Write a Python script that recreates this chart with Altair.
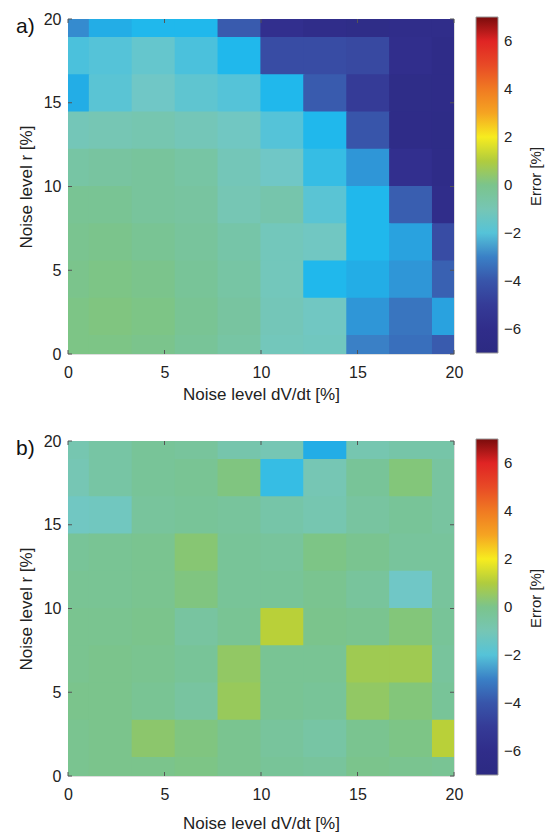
import altair as alt
import pandas as pd

# grid of the simulation (noise levels, %)
grid = [0, 2.22, 4.44, 6.67, 8.89, 11.11, 13.33, 15.56, 17.78, 20]
rows_y = grid[::-1]  # rows listed from top (r = 20) to bottom (r = 0)

# panel a) error [%], rows from r=20 down to r=0, columns dV/dt = 0 .. 20
err_a = [
    [-2.9, -2.6, -2.5, -2.5, -3.8, -5.5, -6.0, -6.2, -6.0, -6.0],
    [-2.1, -2.0, -1.7, -2.1, -2.5, -4.3, -4.3, -4.4, -5.8, -6.3],
    [-2.6, -1.9, -1.5, -1.8, -2.0, -2.5, -3.8, -5.0, -6.2, -6.3],
    [-1.1, -1.0, -0.9, -1.1, -1.4, -2.0, -2.5, -4.0, -6.3, -6.4],
    [-0.6, -0.5, -0.4, -0.6, -1.1, -1.5, -2.3, -2.8, -5.5, -6.3],
    [-0.2, -0.2, -0.4, -0.5, -1.0, -0.8, -1.9, -2.5, -3.7, -6.0],
    [-0.1, 0.0, -0.2, -0.4, -0.7, -1.2, -1.4, -2.5, -2.7, -4.3],
    [0.0, 0.1, 0.0, -0.3, -0.6, -1.2, -2.5, -2.6, -2.8, -3.6],
    [0.1, 0.2, 0.1, -0.2, -0.5, -1.1, -1.4, -2.8, -3.2, -2.7],
    [0.1, 0.1, 0.0, -0.3, -0.6, -1.2, -1.3, -3.0, -3.3, -3.8],
]

# panel b) error [%]
err_b = [
    [-0.9, -0.6, -0.3, -0.4, -0.8, -1.0, -2.6, -0.9, -0.7, -0.7],
    [-1.0, -0.6, -0.3, -0.2, 0.2, -2.3, -1.0, -0.3, 0.3, -0.5],
    [-1.4, -1.3, -0.4, -0.3, -0.4, -0.7, -0.9, -0.5, -0.3, -0.5],
    [-0.3, -0.2, -0.1, 0.4, -0.3, -0.4, 0.1, -0.1, -0.4, -0.4],
    [-0.2, -0.2, -0.1, 0.2, -0.3, -0.3, -0.1, -0.4, -1.5, -0.4],
    [-0.1, -0.1, 0.0, -0.5, -0.2, 1.1, 0.0, -0.1, 0.3, -0.3],
    [-0.1, 0.0, -0.1, -0.3, 0.6, -0.2, -0.2, 0.8, 0.8, -0.4],
    [0.0, 0.0, -0.2, -0.5, 0.7, -0.2, -0.3, 0.6, 0.3, -0.3],
    [-0.1, 0.0, 0.5, 0.2, -0.1, -0.4, -0.6, -0.1, 0.1, 1.1],
    [-0.1, 0.0, 0.0, 0.1, -0.1, -0.3, -0.4, 0.0, -0.1, -0.2],
]

tick_values = [0, 5, 10, 15, 20]
cbar_values = [-6, -4, -2, 0, 2, 4, 6]

# colour map of the colour bar (value -> colour)
cmap_stops = [-7, -5.5, -4.5, -3.5, -3.0, -2.5, -2.0, -1.5, -1.0, -0.5, 0.0, 0.5,
              1.0, 1.5, 2.0, 2.5, 3.0, 4.0, 5.0, 6.0, 6.5, 7.0]
cmap_colors = ["#2c2a82", "#322f8e", "#38469f", "#3a64b4", "#3a80c6", "#20b8ec",
               "#55c3d8", "#70c7c6", "#76c6b4", "#78c4a0", "#7bc48c", "#8cc66c",
               "#b0cc3e", "#e0e020", "#f7ec1f", "#f8c61f", "#f5a422", "#f07a22",
               "#e84a26", "#e02424", "#b81818", "#7a0c0c"]

W, H = 386, 335
CB_X, CB_W = W + 22, 22
HALF = 20 / 9 / 2 + 0.03
FONT = "Liberation Sans"


def frame(err):
    recs = []
    for yv, row in zip(rows_y, err):
        for xv, v in zip(grid, row):
            recs.append({"x": xv, "y": yv, "err": v})
    return pd.DataFrame(recs)


def panel(err, label, xtitle_pad):
    sx = alt.Scale(domain=[0, 20], nice=False, zero=False)
    sy = alt.Scale(domain=[0, 20], nice=False, zero=False)
    ax_x = alt.Axis(
        values=tick_values, title="Noise level dV/dt [%]", labelFlush=False,
        ticks=False, domain=False, grid=False, labelPadding=10,
        labelFontSize=16, titleFontSize=17, titlePadding=xtitle_pad,
        labelColor="#222", titleColor="#222", titleFontWeight="normal",
        labelFont=FONT, titleFont=FONT)
    ax_y = alt.Axis(
        values=tick_values, title="Noise level r [%]", labelFlush=False,
        ticks=False, domain=False, grid=False, labelPadding=7,
        labelFontSize=16, titleFontSize=17, titlePadding=8,
        labelColor="#222", titleColor="#222", titleFontWeight="normal",
        labelFont=FONT, titleFont=FONT)
    heat = (
        alt.Chart(frame(err))
        .transform_calculate(
            x0=f"datum.x - {HALF}", x1=f"datum.x + {HALF}",
            y0=f"datum.y - {HALF}", y1=f"datum.y + {HALF}",
        )
        .mark_rect(clip=True, strokeWidth=0)
        .encode(
            x=alt.X("x0:Q", scale=sx, axis=ax_x, title="Noise level dV/dt [%]"),
            x2="x1:Q",
            y=alt.Y("y0:Q", scale=sy, axis=ax_y, title="Noise level r [%]"),
            y2="y1:Q",
            color=alt.Color("err:Q", scale=alt.Scale(domain=cmap_stops, range=cmap_colors, clamp=True),
                            legend=alt.Legend(
                                orient="none", legendX=CB_X, legendY=-2,
                                direction="vertical", gradientLength=H + 1, gradientThickness=CB_W,
                                gradientStrokeColor="#999", gradientStrokeWidth=1,
                                values=cbar_values, title=None,
                                labelFont=FONT, labelFontSize=15,
                                labelColor="#222", labelOffset=6)),
        )
    )
    tdf = pd.DataFrame({"v": tick_values})
    tk = alt.Chart(tdf).mark_rule(color="#555", strokeWidth=1)
    bottom = tk.encode(x=alt.X("v:Q", scale=sx, axis=ax_x, title="Noise level dV/dt [%]"),
                       y=alt.value(H), y2=alt.value(H - 4))
    top = tk.encode(x=alt.X("v:Q", scale=sx, axis=ax_x, title="Noise level dV/dt [%]"),
                    y=alt.value(0), y2=alt.value(4))
    left = tk.encode(y=alt.Y("v:Q", scale=sy, axis=ax_y, title="Noise level r [%]"),
                     x=alt.value(0), x2=alt.value(4))
    right = tk.encode(y=alt.Y("v:Q", scale=sy, axis=ax_y, title="Noise level r [%]"),
                      x=alt.value(W), x2=alt.value(W - 4))
    inner = alt.layer(heat, bottom, top, left, right)

    # small ticks on the colour bar
    cbt = alt.Chart(pd.DataFrame({"c": cbar_values})).mark_rule(color="#555", strokeWidth=1).encode(
        y=alt.Y("c:Q", scale=alt.Scale(domain=[-7, 7], range=[H - 1, -2], nice=False, zero=False), axis=None),
        x=alt.value(CB_X + CB_W), x2=alt.value(CB_X + CB_W - 4))

    lab = alt.Chart(pd.DataFrame({"t": [label]})).mark_text(
        font=FONT, fontSize=21, align="left", baseline="alphabetic", color="#111"
    ).encode(text="t:N", x=alt.value(-52), y=alt.value(14))
    ctitle = alt.Chart(pd.DataFrame({"t": ["Error [%]"]})).mark_text(
        font=FONT, fontSize=15, align="center", baseline="middle", angle=270, color="#222"
    ).encode(text="t:N", x=alt.value(W + 82), y=alt.value(H / 2 - 10))
    return (alt.layer(inner, cbt, lab, ctitle)
            .resolve_scale(y="independent")
            .properties(width=W, height=H))


chart = (
    alt.vconcat(panel(err_a, "a)", 6), panel(err_b, "b)", 13), spacing=87, bounds="flush")
    .resolve_scale(color="independent")
    .properties(padding={"left": 15, "top": 10, "right": 0, "bottom": 0})
    .configure_view(stroke="#666", strokeWidth=1)
    .configure(background="white")
)

chart.save("out.html", embed_options={"renderer": "svg", "actions": False})
